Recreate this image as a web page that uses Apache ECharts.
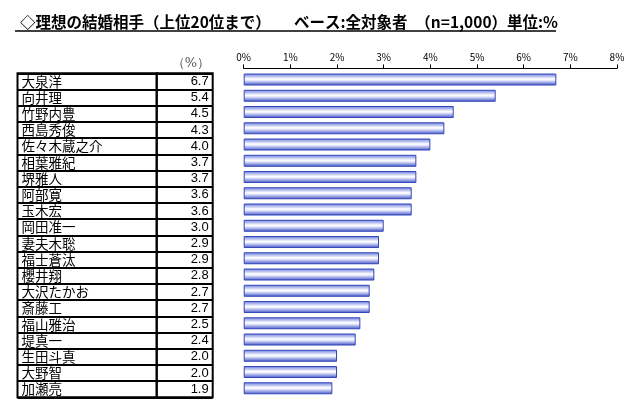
<!DOCTYPE html>
<html><head><meta charset="utf-8">
<script src="https://cdn.jsdelivr.net/npm/echarts@6/dist/echarts.min.js"></script>
<style>html,body{margin:0;padding:0;background:#fff}#c{width:640px;height:407px}</style>
</head><body><div id="c"></div>
<script>
const names = ['大泉洋','向井理','竹野内豊','西島秀俊','佐々木蔵之介','相葉雅紀','堺雅人','阿部寛','玉木宏','岡田准一','妻夫木聡','福士蒼汰','櫻井翔','大沢たかお','斎藤工','福山雅治','堤真一','生田斗真','大野智','加瀬亮'];
const values = [6.7,5.4,4.5,4.3,4.0,3.7,3.7,3.6,3.6,3.0,2.9,2.9,2.8,2.7,2.7,2.5,2.4,2.0,2.0,1.9];
const xTicks = [0,1,2,3,4,5,6,7,8];
const titleText = '◇理想の結婚相手（上位20位まで）　　ベース:全対象者　（n=1,000）単位:%';
const unitText = '（%）';

const chart = echarts.init(document.getElementById('c'), null, {renderer:'canvas'});
const jp = '"Noto Sans CJK JP", sans-serif';
const tableTop = 73.3, tableH = 324;
chart.setOption({
  animation:false,
  title:[
    {text:titleText,left:15,top:9,textStyle:{fontFamily:jp,fontWeight:'bold',fontSize:15.5,color:'#000'}},
    {text:unitText,right:425,top:52,textStyle:{fontFamily:'"DejaVu Serif", serif',fontWeight:'normal',fontSize:13,color:'#555'}}
  ],
  graphic:[{type:'line',shape:{x1:15,y1:31,x2:556,y2:31},style:{stroke:'#000',lineWidth:1.5}}],
  grid:[
    {left:17.5,top:tableTop,width:139.2,height:tableH,show:true,borderColor:'#000',borderWidth:2,backgroundColor:'transparent'},
    {left:156.7,top:tableTop,width:56,height:tableH,show:true,borderColor:'#000',borderWidth:2,backgroundColor:'transparent'},
    {left:243.7,right:23,top:71.4,height:325}
  ],
  xAxis:[
    {gridIndex:0,type:'value',show:false},
    {gridIndex:1,type:'value',show:false},
    {gridIndex:2,type:'value',position:'top',min:xTicks[0],max:xTicks[xTicks.length-1],interval:1,offset:3,
     axisLine:{show:true,lineStyle:{color:'#000',width:1}},
     axisTick:{show:true,length:4,lineStyle:{color:'#000'}},
     splitLine:{show:false},
     axisLabel:{margin:6,fontSize:10,color:'#000',fontFamily:'"Liberation Sans Narrow", "Noto Sans CJK JP", sans-serif',formatter:v=>v+'%'}}
  ],
  yAxis:[
    {gridIndex:0,type:'category',inverse:true,data:names,
     axisLine:{show:false},axisTick:{show:false},
     splitLine:{show:true,interval:0,lineStyle:{color:'#000',width:2}},
     axisLabel:{inside:true,interval:0,margin:4,fontSize:13.5,color:'#000',fontFamily:jp,verticalAlign:'middle',padding:[3,0,0,0]}},
    {gridIndex:1,type:'category',inverse:true,position:'right',data:values.map(v=>v.toFixed(1)),
     axisLine:{show:false},axisTick:{show:false},
     splitLine:{show:true,interval:0,lineStyle:{color:'#000',width:2}},
     axisLabel:{inside:true,interval:0,margin:4,fontSize:13,color:'#000',fontFamily:'"Liberation Sans", Arial, sans-serif',padding:[4,0,0,0]}},
    {gridIndex:2,type:'category',inverse:true,data:names,show:false}
  ],
  series:[{
    type:'bar',xAxisIndex:2,yAxisIndex:2,data:values,barWidth:12,
    itemStyle:{
      borderColor:'#3447b8',borderWidth:1,
      color:new echarts.graphic.LinearGradient(0,0,0,1,[
        {offset:0,color:'#6679dc'},{offset:0.45,color:'#ffffff'},{offset:0.55,color:'#eef0ff'},{offset:1,color:'#3c4ec4'}
      ])
    }
  }]
});
</script></body></html>
